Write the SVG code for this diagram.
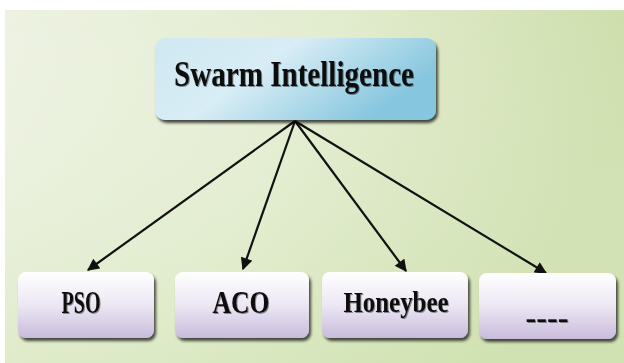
<svg xmlns="http://www.w3.org/2000/svg" width="624" height="363" viewBox="0 0 624 363">
<defs>
<linearGradient id="bg" x1="0" y1="0" x2="1" y2="0.3">
<stop offset="0" stop-color="#edf2e2"/>
<stop offset="0.5" stop-color="#e2ecce"/>
<stop offset="1" stop-color="#cadca6"/>
</linearGradient>
<linearGradient id="bgv" x1="0" y1="0" x2="0" y2="1">
<stop offset="0" stop-color="#ffffff" stop-opacity="0"/>
<stop offset="1" stop-color="#d6e7bc" stop-opacity="0.5"/>
</linearGradient>
<linearGradient id="top" x1="0" y1="0" x2="1" y2="0.4">
<stop offset="0" stop-color="#cfe8f2"/>
<stop offset="0.45" stop-color="#d8edf5"/>
<stop offset="1" stop-color="#86c6de"/>
</linearGradient>
<linearGradient id="leaf" x1="0" y1="0" x2="0" y2="1">
<stop offset="0" stop-color="#ffffff"/>
<stop offset="0.5" stop-color="#ece7f3"/>
<stop offset="1" stop-color="#c8bcdc"/>
</linearGradient>
<filter id="sh" x="-10%" y="-10%" width="130%" height="140%">
<feGaussianBlur in="SourceAlpha" stdDeviation="1.5"/>
<feOffset dx="2" dy="3" result="o"/>
<feComponentTransfer><feFuncA type="linear" slope="0.7"/></feComponentTransfer>
<feMerge><feMergeNode/><feMergeNode in="SourceGraphic"/></feMerge>
</filter>
<filter id="ts" x="-5%" y="-20%" width="110%" height="140%">
<feGaussianBlur in="SourceAlpha" stdDeviation="0.6"/>
<feOffset dx="1" dy="1"/>
<feComponentTransfer><feFuncA type="linear" slope="0.4"/></feComponentTransfer>
<feMerge><feMergeNode/><feMergeNode in="SourceGraphic"/></feMerge>
</filter>
<marker id="ah" viewBox="0 0 10 10" refX="9" refY="5" markerWidth="6" markerHeight="5.5" orient="auto" markerUnits="strokeWidth">
<path d="M0,0 L10,5 L0,10 z" fill="#111"/>
</marker>
<style>
.t{font-family:"Liberation Serif","Times New Roman",serif;font-weight:bold;fill:#111;text-anchor:middle;filter:url(#ts)}
.leaf{fill:url(#leaf);filter:url(#sh)}
.c{stroke:#111;stroke-width:2.2;fill:none;marker-end:url(#ah)}
</style>
</defs>
<rect x="0" y="0" width="624" height="363" fill="#ffffff"/>
<rect x="5" y="10" width="619" height="353" fill="url(#bg)"/>
<rect x="5" y="10" width="619" height="353" fill="url(#bgv)"/>
<g id="connectors">
<line class="c" x1="295" y1="121" x2="88" y2="270"/>
<line class="c" x1="295" y1="121" x2="243" y2="269"/>
<line class="c" x1="295" y1="121" x2="406" y2="271"/>
<line class="c" x1="295" y1="121" x2="546" y2="273"/>
</g>
<g id="swarm">
<rect x="155" y="38" width="281" height="82" rx="10" fill="url(#top)" filter="url(#sh)"/>
<text class="t" x="294" y="86" font-size="35" textLength="240" lengthAdjust="spacingAndGlyphs">Swarm Intelligence</text>
</g>
<g id="pso">
<rect class="leaf" x="18" y="272" width="136" height="66" rx="8"/>
<text class="t" x="81" y="313" font-size="31" textLength="39" lengthAdjust="spacingAndGlyphs">PSO</text>
</g>
<g id="aco">
<rect class="leaf" x="175" y="272" width="134" height="66" rx="8"/>
<text class="t" x="241" y="313" font-size="31" textLength="57" lengthAdjust="spacingAndGlyphs">ACO</text>
</g>
<g id="honeybee">
<rect class="leaf" x="322" y="272" width="146" height="66" rx="8"/>
<text class="t" x="396" y="312" font-size="30" textLength="105" lengthAdjust="spacingAndGlyphs">Honeybee</text>
</g>
<g id="more">
<rect class="leaf" x="479" y="273" width="137" height="66" rx="8"/>
<text class="t" x="547" y="328" font-size="31" textLength="43" lengthAdjust="spacingAndGlyphs">----</text>
</g>
</svg>
